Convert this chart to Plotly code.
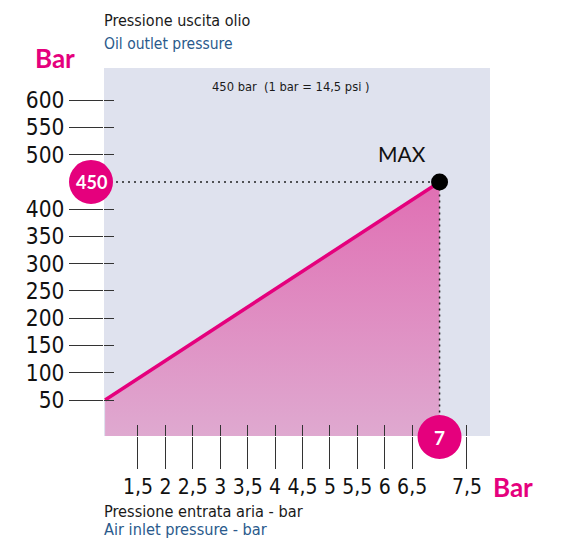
import plotly.graph_objects as go

# --- data -------------------------------------------------------------
air_in = [0.9, 7.0]          # air inlet pressure (bar)
oil_out = [50, 450]          # oil outlet pressure (bar)
max_point = (7.0, 450)

x_tick_vals = [1.5, 2, 2.5, 3, 3.5, 4, 4.5, 5, 5.5, 6, 6.5, 7.5]
x_tick_text = ["1,5", "2", "2,5", "3", "3,5", "4", "4,5", "5", "5,5", "6", "6,5", "7,5"]
y_tick_vals = [50, 100, 150, 200, 250, 300, 350, 400, 500, 550, 600]
y_tick_text = [str(v) for v in y_tick_vals]

# --- layout geometry ----------------------------------------------------
W, H = 569, 540
PL, PT, PR, PB = 104, 68, 490, 436
X_MIN, X_MAX = 0.88, 7.92
Y_MIN, Y_MAX = -16, 659

MAGENTA = "#e5007d"
BLUE = "#2a5a8c"
NARROW = "Liberation Sans Narrow, Arial Narrow, DejaVu Sans Condensed, sans-serif"
GEOM = "Lato, Roboto, sans-serif"


def px_x(p):
    return (p - PL) / (PR - PL)


def px_y(p):
    return (PB - p) / (PB - PT)


def dat_x(v):
    return (v - X_MIN) / (X_MAX - X_MIN)


def dat_y(v):
    return (v - Y_MIN) / (Y_MAX - Y_MIN)


fig = go.Figure()

# shaded area under the pressure line
fig.add_trace(go.Scatter(
    x=[air_in[0], air_in[1], air_in[1], air_in[0]],
    y=[oil_out[0], oil_out[1], Y_MIN, Y_MIN],
    fill="toself", mode="none",
    fillgradient=dict(type="vertical",
                      colorscale=[[0, "#dfa9d0"], [1, "#e06fb3"]]),
    hoverinfo="skip", showlegend=False,
))

# pressure line
fig.add_trace(go.Scatter(
    x=air_in, y=oil_out, mode="lines",
    line=dict(color=MAGENTA, width=3.5),
    showlegend=False,
))

# dotted guides to the maximum point
fig.add_trace(go.Scatter(
    x=[X_MIN, max_point[0], max_point[0]],
    y=[max_point[1], max_point[1], Y_MIN],
    mode="lines", line=dict(color="#222222", width=1.5, dash="2px,4px"),
    hoverinfo="skip", showlegend=False,
))

# maximum point
fig.add_trace(go.Scatter(
    x=[max_point[0]], y=[max_point[1]], mode="markers",
    marker=dict(color="black", size=17),
    showlegend=False,
))

axis_common = dict(showgrid=False, zeroline=False, showline=False, fixedrange=True)

fig.update_layout(
    width=W, height=H,
    margin=dict(l=PL, r=W - PR, t=PT, b=H - PB, pad=0),
    paper_bgcolor="white",
    plot_bgcolor="#dfe2ee",
    xaxis=dict(range=[X_MIN, X_MAX], tickvals=x_tick_vals, ticktext=x_tick_text,
               ticks="outside", ticklen=32, tickwidth=1.2, tickcolor="#333333",
               tickfont=dict(family=NARROW, size=21, color="#111111"),
               **axis_common),
    yaxis=dict(range=[Y_MIN, Y_MAX], tickvals=y_tick_vals, ticktext=y_tick_text,
               ticks="outside", ticklen=34, tickwidth=1.2, tickcolor="#333333",
               tickfont=dict(family=NARROW, size=22.5, color="#111111"),
               **axis_common),
    xaxis2=dict(range=[X_MIN, X_MAX], overlaying="x", side="bottom", anchor="y",
                tickvals=x_tick_vals, ticks="inside", ticklen=11, tickwidth=1.2,
                tickcolor="#333333", showticklabels=False, **axis_common),
    yaxis2=dict(range=[Y_MIN, Y_MAX], overlaying="y", side="left", anchor="x",
                tickvals=y_tick_vals, ticks="inside", ticklen=10, tickwidth=1.2,
                tickcolor="#333333", showticklabels=False, **axis_common),
)

# invisible trace so the overlay axes are drawn
fig.add_trace(go.Scatter(x=[X_MIN], y=[Y_MIN], xaxis="x2", yaxis="y2",
                         mode="markers", marker=dict(opacity=0),
                         hoverinfo="skip", showlegend=False))

# round value badges
R = 22
badges = [
    ("450", px_x(91), dat_y(450)),
    ("7", dat_x(7), px_y(437)),
]
for text, bx, by in badges:
    rx = R / (PR - PL)
    ry = R / (PB - PT)
    fig.add_shape(type="circle", xref="paper", yref="paper",
                  x0=bx - rx, x1=bx + rx, y0=by - ry, y1=by + ry,
                  fillcolor=MAGENTA, line=dict(width=0), layer="above")
    fig.add_annotation(text=f"<b>{text}</b>", xref="paper", yref="paper",
                       x=bx, y=by, showarrow=False, xanchor="center", yanchor="middle",
                       font=dict(family=GEOM, size=19 if text == "7" else 18, color="white"))


def label(text, x, y, font, xanchor="center"):
    fig.add_annotation(text=text, xref="paper", yref="paper", x=px_x(x), y=px_y(y),
                       showarrow=False, xanchor=xanchor, yanchor="middle",
                       borderpad=0, font=font)


label("<b>Bar</b>", 55, 58, dict(family=GEOM, size=26, color=MAGENTA, weight=900))
label("<b>Bar</b>", 513, 487, dict(family=GEOM, size=26, color=MAGENTA, weight=900))
label("Pressione uscita olio", 103, 20, dict(family=NARROW, size=16, color="#1a1a1a"), "left")
label("Oil outlet pressure", 103, 44, dict(family=NARROW, size=15.5, color=BLUE), "left")
label("450 bar  (1 bar = 14,5 psi )", 291, 87, dict(family=NARROW, size=12.8, color="#1a1a1a"))
label("MAX", 402, 153, dict(family=GEOM, size=21, color="#111111"))
label("Pressione entrata aria - bar", 103, 511, dict(family=NARROW, size=16.2, color="#1a1a1a"), "left")
label("Air inlet pressure - bar", 103, 529, dict(family=NARROW, size=16.2, color=BLUE), "left")

fig.write_html("out.html")
